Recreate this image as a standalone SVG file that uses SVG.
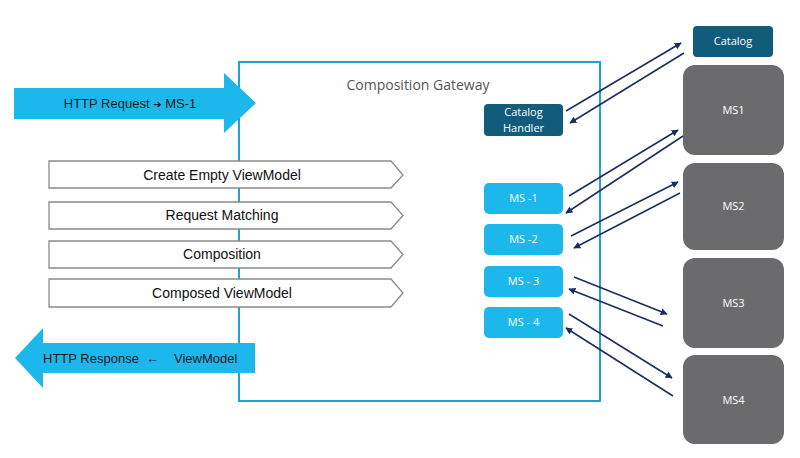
<svg xmlns="http://www.w3.org/2000/svg" width="800" height="458" viewBox="0 0 800 458">
<defs>
<marker id="ah" viewBox="0 0 10 10" refX="9" refY="5" markerWidth="7" markerHeight="7" markerUnits="userSpaceOnUse" orient="auto">
<path d="M0,0 L10,5 L0,10 z" fill="#1b2d5e"/>
</marker>
<style>
.big{fill:#1cb8eb}
.lbl{font-family:"Liberation Sans",Arial,sans-serif;font-size:13px;fill:#1a1a1a}
.step{fill:#fff;stroke:#8a8a8a;stroke-width:1.3}
.steptxt{font-family:"Liberation Sans",Arial,sans-serif;font-size:14px;fill:#111;text-anchor:middle}
.dark{fill:#115c7a}
.light{fill:#1cb8eb}
.ms{fill:#6b6b6d}
.wt{font-family:"Open Sans","Noto Sans",sans-serif;font-size:11px;fill:#fff;text-anchor:middle}
.conn{stroke:#1b2d5e;stroke-width:1.5;fill:none;marker-end:url(#ah)}
</style>
</defs>
<rect width="800" height="458" fill="#fff"/>
<g id="gateway">
<rect x="239" y="62" width="361" height="339" fill="none" stroke="#1ea3d6" stroke-width="2"/>
<text x="418" y="90" font-family="'Open Sans','Noto Sans',sans-serif" font-size="14" fill="#555" text-anchor="middle">Composition Gateway</text>
</g>
<g id="http-request">
<polygon class="big" points="14,88 224,88 224,73 256,103 224,133 224,119 14,119"/>
<text class="lbl" x="130" y="108" text-anchor="middle" font-size="12.5">HTTP Request <tspan font-family="'DejaVu Sans',sans-serif" font-size="10">➔</tspan> MS-1</text>
</g>
<g id="http-response">
<polygon class="big" points="255,343 43,343 43,328 15,358 43,388 43,373 255,373"/>
<text class="lbl" x="43" y="363">HTTP Response</text>
<text class="lbl" x="146" y="363">←</text>
<text class="lbl" x="174" y="363">ViewModel</text>
</g>
<g id="step-create">
<polygon class="step" points="49,161 391,161 403,175 391,188 49,188"/>
<text class="steptxt" x="222" y="180">Create Empty ViewModel</text>
</g>
<g id="step-matching">
<polygon class="step" points="49,202 391,202 403,215.5 391,229 49,229"/>
<text class="steptxt" x="222" y="220">Request Matching</text>
</g>
<g id="step-composition">
<polygon class="step" points="49,241 391,241 403,254.5 391,268 49,268"/>
<text class="steptxt" x="222" y="259">Composition</text>
</g>
<g id="step-composed">
<polygon class="step" points="49,279 391,279 403,293 391,307 49,307"/>
<text class="steptxt" x="222" y="298">Composed ViewModel</text>
</g>
<g id="catalog-handler">
<rect class="dark" x="484" y="104" width="79" height="32" rx="4"/>
<text class="wt" x="523.5" y="116">Catalog</text>
<text class="wt" x="523.5" y="132">Handler</text>
</g>
<g id="ms-1">
<rect class="light" x="484" y="183" width="79" height="31" rx="5"/>
<text class="wt" x="523.5" y="202">MS -1</text>
</g>
<g id="ms-2">
<rect class="light" x="484" y="224" width="79" height="31" rx="5"/>
<text class="wt" x="523.5" y="243">MS -2</text>
</g>
<g id="ms-3">
<rect class="light" x="484" y="266" width="79" height="31" rx="5"/>
<text class="wt" x="523.5" y="285">MS - 3</text>
</g>
<g id="ms-4">
<rect class="light" x="484" y="307" width="79" height="31" rx="5"/>
<text class="wt" x="523.5" y="326">MS - 4</text>
</g>
<g id="catalog">
<rect class="dark" x="693" y="26" width="80" height="31" rx="4"/>
<text class="wt" x="733" y="45">Catalog</text>
</g>
<g id="ms1">
<rect class="ms" x="683" y="65" width="101" height="90" rx="12"/>
<text class="wt" x="733.5" y="114">MS1</text>
</g>
<g id="ms2">
<rect class="ms" x="683" y="163" width="101" height="87" rx="12"/>
<text class="wt" x="733.5" y="210">MS2</text>
</g>
<g id="ms3">
<rect class="ms" x="683" y="258" width="101" height="90" rx="12"/>
<text class="wt" x="733.5" y="307">MS3</text>
</g>
<g id="ms4">
<rect class="ms" x="683" y="355" width="101" height="89" rx="12"/>
<text class="wt" x="733.5" y="404">MS4</text>
</g>
<g id="connectors">
<line class="conn" x1="566" y1="111" x2="681" y2="43"/>
<line class="conn" x1="684" y1="53" x2="570" y2="123"/>
<line class="conn" x1="569" y1="196" x2="678" y2="130"/>
<line class="conn" x1="683" y1="136" x2="566" y2="213"/>
<line class="conn" x1="571" y1="236" x2="678" y2="182"/>
<line class="conn" x1="680" y1="193" x2="574" y2="248"/>
<line class="conn" x1="574" y1="277" x2="667" y2="314"/>
<line class="conn" x1="663" y1="326" x2="569" y2="289"/>
<line class="conn" x1="569" y1="314" x2="672" y2="378"/>
<line class="conn" x1="673" y1="396" x2="566" y2="328"/>
</g>
</svg>
